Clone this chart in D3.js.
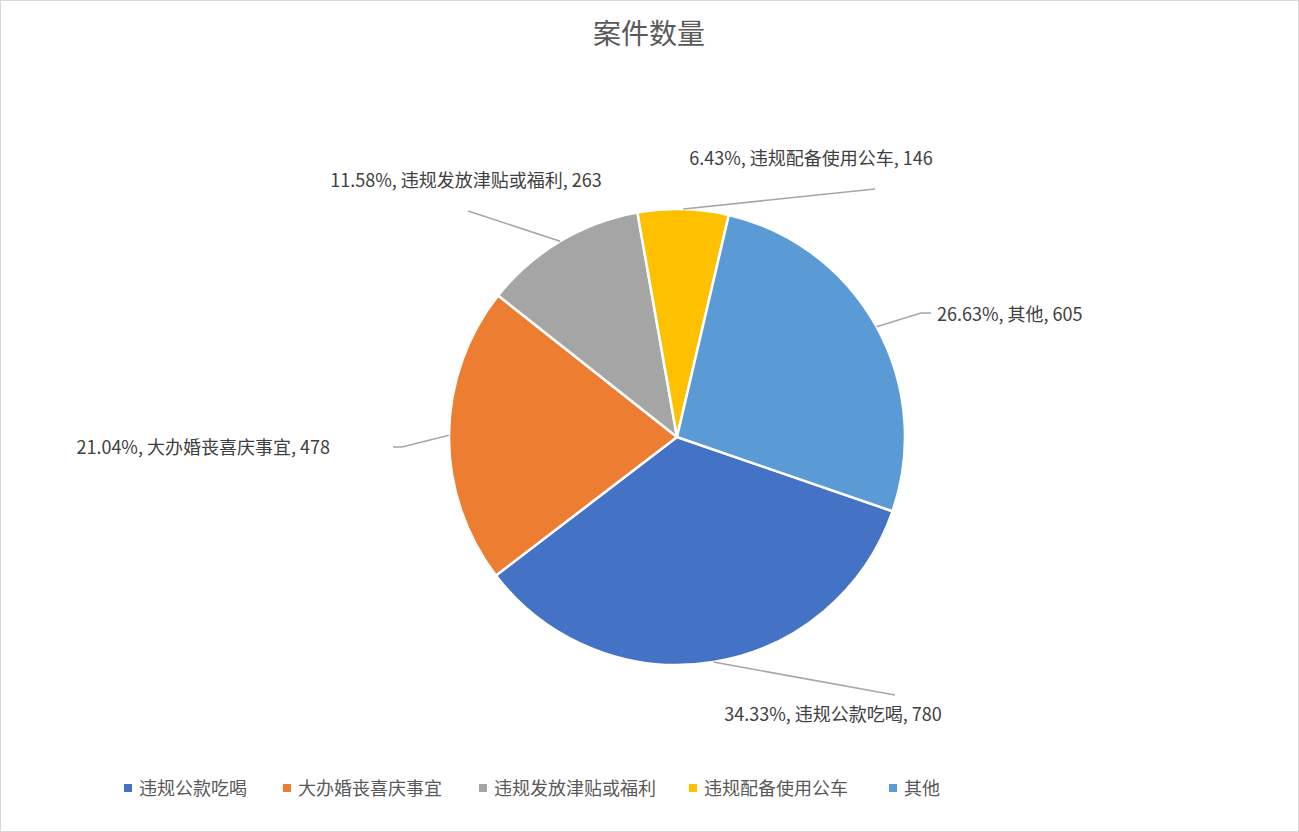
<!DOCTYPE html>
<html><head><meta charset="utf-8">
<script src="https://cdn.jsdelivr.net/npm/d3@7"></script>
<style>
html,body{margin:0;padding:0;background:#fff;}
svg{display:block;font-family:"Noto Sans CJK SC","Noto Sans",sans-serif;}
</style></head>
<body><svg id="c" width="1299" height="832"></svg>
<script>
// ---- data ----
const title = "案件数量";
const categories = ["违规公款吃喝","大办婚丧喜庆事宜","违规发放津贴或福利","违规配备使用公车","其他"];
const values = [780, 478, 263, 146, 605];
const percentLabels = ["34.33%","21.04%","11.58%","6.43%","26.63%"];
const colors = ["#4472C4","#ED7D31","#A5A5A5","#FFC000","#5B9BD5"];

// ---- layout ----
const W = 1299, H = 832;
const cx = 677, cy = 437, R = 228;
const startDeg = 109;
// label layout: text anchor position, anchor, leader end points (bend, end)
const labelLayout = [
  {tx: 833, ty: 721, anchor: "middle", pts: [[895,695]]},
  {tx: 330, ty: 454, anchor: "end", pts: [[402,447],[393,447]]},
  {tx: 466, ty: 187, anchor: "middle", pts: [[468,211]]},
  {tx: 811, ty: 165, anchor: "middle", pts: [[875,189]]},
  {tx: 937, ty: 321, anchor: "start", pts: [[921,313],[931,313]]}
];

const svg = d3.select("#c");
svg.append("rect").attr("x",0.5).attr("y",0.5).attr("width",W-1).attr("height",H-1)
  .attr("fill","#fff").attr("stroke","#d9d9d9").attr("stroke-width",1);

svg.append("text").attr("x",649).attr("y",44).attr("text-anchor","middle")
  .attr("font-size",28).attr("fill","#595959").text(title);

const data = categories.map((c,i)=>({name:c, value:values[i], pct:percentLabels[i], color:colors[i], i}));
const rad = d3.scaleLinear().domain([0,360]).range([0, 2*Math.PI]);
const pie = d3.pie().value(d=>d.value).sort(null)
  .startAngle(rad(startDeg)).endAngle(rad(startDeg+360));
const arcs = pie(data);
const arc = d3.arc().innerRadius(0).outerRadius(R);

const g = svg.append("g").attr("transform",`translate(${cx},${cy})`);
g.selectAll("path").data(arcs).join("path")
  .attr("d",arc).attr("fill",d=>d.data.color)
  .attr("stroke","#fff").attr("stroke-width",2.5).attr("stroke-linejoin","round");

// leader lines & labels
arcs.forEach((a,i)=>{
  const m = (a.startAngle+a.endAngle)/2;
  const sx = cx + R*Math.sin(m), sy = cy - R*Math.cos(m);
  const L = labelLayout[i];
  const pts = [[sx,sy]].concat(L.pts);
  svg.append("path").attr("d", d3.line()(pts))
    .attr("fill","none").attr("stroke","#a6a6a6").attr("stroke-width",1.5);
  svg.append("text").attr("x",L.tx).attr("y",L.ty).attr("text-anchor",L.anchor)
    .attr("font-size",18).attr("fill","#404040")
    .text(`${a.data.pct}, ${a.data.name}, ${a.data.value}`);
});

// legend
const legendX = [124, 283, 479, 689, 889];
const lg = svg.append("g");
data.forEach((d,i)=>{
  lg.append("rect").attr("x",legendX[i]).attr("y",784).attr("width",8).attr("height",8).attr("fill",d.color);
  lg.append("text").attr("x",legendX[i]+15).attr("y",795).attr("font-size",18).attr("fill","#595959").text(d.name);
});
</script></body></html>
